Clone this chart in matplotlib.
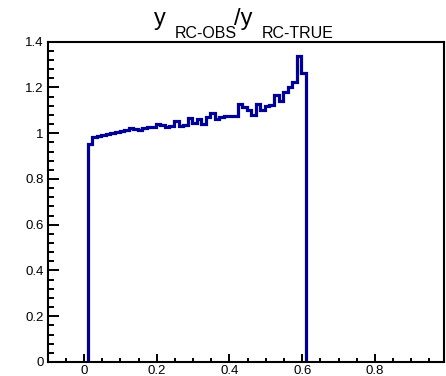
import numpy as np
import matplotlib
matplotlib.use("Agg")
import matplotlib.pyplot as plt
from matplotlib.ticker import MultipleLocator, FuncFormatter

plt.rcParams['font.family'] = ['Liberation Sans', 'DejaVu Sans']

# Histogram: 48 bins of width 0.0125 from 0.01 to 0.61
bin_lo = 0.01
bin_hi = 0.61
ratio = [0.955, 0.982, 0.990, 0.992, 0.997, 1.000, 1.005, 1.010,
         1.016, 1.022, 1.018, 1.016, 1.024, 1.026, 1.026, 1.040,
         1.038, 1.026, 1.030, 1.055, 1.030, 1.035, 1.065, 1.045,
         1.060, 1.042, 1.070, 1.090, 1.060, 1.072, 1.074, 1.075,
         1.077, 1.128, 1.116, 1.102, 1.078, 1.126, 1.100, 1.118,
         1.122, 1.167, 1.142, 1.182, 1.203, 1.222, 1.337, 1.264]
x_ticks = [0, 0.2, 0.4, 0.6, 0.8]
y_ticks = [0, 0.2, 0.4, 0.6, 0.8, 1.0, 1.2, 1.4]

W, H = 446, 376
fig = plt.figure(figsize=(W / 100, H / 100), dpi=100)
ax = fig.add_axes([47.7 / W, 1 - 362 / H, (444 - 47.7) / W, (362 - 41.7) / H])

edges = np.linspace(bin_lo, bin_hi, len(ratio) + 1)
ax.stairs(ratio, edges, baseline=0, color='#000099', linewidth=2.3)

ax.set_xlim(-0.1, 0.99)
ax.set_ylim(0, 1.4)
ax.set_xticks(x_ticks)
ax.set_yticks(y_ticks)

def fmt(v, pos):
    s = ('%.1f' % v)
    if s.endswith('.0'):
        s = s[:-2]
    return s

ax.xaxis.set_major_formatter(FuncFormatter(fmt))
ax.yaxis.set_major_formatter(FuncFormatter(fmt))
ax.xaxis.set_minor_locator(MultipleLocator(0.05))
ax.yaxis.set_minor_locator(MultipleLocator(0.04))

for s in ax.spines.values():
    s.set_linewidth(1.5)
ax.tick_params(axis='both', which='both', direction='in', top=False, right=False,
               width=1.4, labelsize=9.5)
ax.tick_params(axis='y', which='major', length=8, pad=3)
ax.tick_params(axis='y', which='minor', length=4.5)
ax.tick_params(axis='x', which='major', length=6, pad=2)
ax.tick_params(axis='x', which='minor', length=3.2)

# Title with manual sub-scripts
fig.text(154 / W, 1 - 25.5 / H, 'y', fontsize=17, ha='left', va='baseline')
fig.text(175 / W, 1 - 38.5 / H, 'RC-OBS', fontsize=11.5, ha='left', va='baseline')
fig.text(234 / W, 1 - 25.5 / H, '/y', fontsize=17, ha='left', va='baseline')
fig.text(262 / W, 1 - 38.5 / H, 'RC-TRUE', fontsize=11.5, ha='left', va='baseline')

fig.savefig('out.png', dpi=100)
